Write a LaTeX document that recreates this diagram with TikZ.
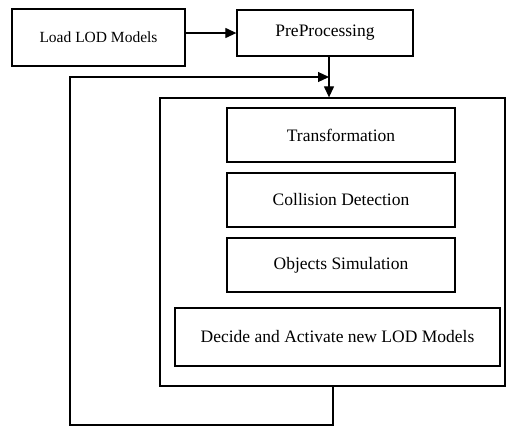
\documentclass[tikz,border=0pt]{standalone}
\usepackage{fontspec}
\setmainfont{Liberation Serif}
\usetikzlibrary{arrows.meta}
\tikzstyle{arrow} = [line width=1.2pt,-{Triangle[length=11pt,width=10pt]}]
\tikzstyle{block} = [draw=black, line width=1.3pt, text centered, font=\fontsize{17.5}{20}\selectfont]

\begin{document}
\begin{tikzpicture}[x=1pt, y=-1pt]
        \useasboundingbox (0,0) rectangle (506,426);

        % Input blocks
        \node (load) at (98.5,37.5) [block, minimum width=173pt, minimum height=57pt,
        font=\fontsize{15.5}{18}\selectfont] {Load LOD Models};
        \node (pre) at (325,33) [block, minimum width=176pt, minimum height=46pt] {PreProcessing};

        % Main loop block
        \node (loop) at (332.5,242) [block, minimum width=345pt, minimum height=288pt] {};

        % Steps in block
        \node (trans) at (341,135) [block, minimum width=228pt, minimum height=54pt] {Transformation};
        \node (coll) at (341,200) [block, minimum width=228pt, minimum height=54pt] {Collision Detection};
        \node (sim) at (341,265) [block, minimum width=228pt, minimum height=54pt] {Objects Simulation};
        \node (decide) at (337.5,337) [block, minimum width=325pt, minimum height=58pt] {Decide and Activate new LOD Models};

        % Feedback points
        \coordinate (join) at (329,77);
        \coordinate (loopbot) at (333,425);
        \coordinate (loopleft) at (70,425);

        % Arrows
        \draw [arrow] (load.east |- pre.west) -- (pre.west);
        \draw [arrow] (pre.south -| join) -- (loop.north -| join);
        \draw [arrow] (loop.south -| loopbot) |- (loopleft) |- (join);
    \end{tikzpicture}
\end{document}
